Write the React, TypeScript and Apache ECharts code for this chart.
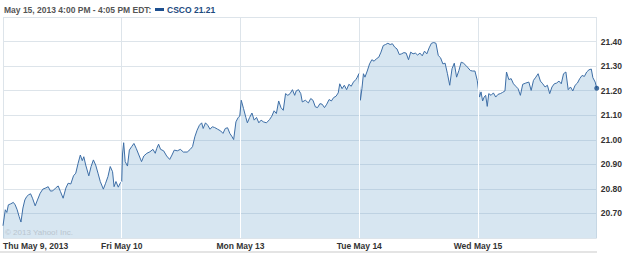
import React, { useEffect, useRef } from "react";
import * as echarts from "echarts";

const SESSION = 390;
const dayLabels = ["Thu May 9, 2013", "Fri May 10", "Mon May 13", "Tue May 14", "Wed May 15"];
const headerText = "May 15, 2013 4:00 PM - 4:05 PM EDT:";
const legendText = "CSCO 21.21";
const copyrightText = "\u00A9 2013 Yahoo! Inc.";

// [minute of session, price]
const thu: [number, number][] = [
  [0, 20.65], [7.5, 20.715], [12.6, 20.704], [17.6, 20.735], [25.2, 20.739], [34, 20.745], [40, 20.735],
  [46.5, 20.715], [52.8, 20.688], [59, 20.665], [65.4, 20.722], [71.7, 20.755], [78, 20.769], [84.3, 20.776],
  [90.6, 20.78], [96.9, 20.762], [105.7, 20.731], [113.2, 20.755], [122, 20.782], [130.8, 20.799], [140.9, 20.804],
  [148.4, 20.809], [156, 20.791], [163.5, 20.792], [172.3, 20.803], [181.2, 20.812], [188.7, 20.789], [197.5, 20.762],
  [206.3, 20.803], [213.9, 20.823], [222.7, 20.82], [231.5, 20.853], [239, 20.864], [246.6, 20.904], [254, 20.938],
  [260.4, 20.915], [265.4, 20.931], [271.7, 20.897], [281.8, 20.853], [289.3, 20.891], [296.9, 20.918], [304.4, 20.897],
  [312, 20.864], [319.5, 20.83], [329.6, 20.799], [337, 20.823], [344.7, 20.85], [352.2, 20.891], [359.8, 20.87],
  [364.8, 20.809], [371, 20.83], [378.6, 20.807], [384.9, 20.823], [390, 20.83],
];
const fri: [number, number][] = [
  [2.5, 20.942], [6.3, 20.988], [11.3, 20.911], [18.8, 20.893], [25, 20.958], [32.5, 20.972], [40, 20.985],
  [47.5, 20.965], [55, 20.942], [65, 20.911], [72.5, 20.934], [82.5, 20.945], [92.5, 20.951], [102.5, 20.961],
  [110, 20.945], [115, 20.965], [121, 20.982], [127.5, 20.961], [137.5, 20.955], [147.5, 20.934], [157.5, 20.92],
  [165, 20.938], [172.5, 20.958], [182.5, 20.955], [192.5, 20.961], [202.5, 20.95], [215, 20.95], [225, 20.961],
  [232.5, 20.972], [240, 21.012], [247.5, 21.039], [255, 21.059], [262.5, 21.069], [267.5, 21.046], [275, 21.069],
  [282.5, 21.059], [290, 21.043], [297.5, 21.053], [305, 21.05], [315, 21.043], [325, 21.036], [332.5, 21.026],
  [340, 21.046], [347.5, 21.049], [355, 21.026], [361, 21.015], [367.5, 21.001], [375, 21.073], [382.5, 21.091],
  [387.5, 21.096],
];
const mon: [number, number][] = [
  [2.5, 21.161], [10, 21.127], [17.6, 21.091], [22.6, 21.069], [30, 21.091], [37.6, 21.109], [45, 21.08],
  [52.7, 21.091], [60.2, 21.069], [67.7, 21.08], [75.2, 21.073], [85.3, 21.069], [95.3, 21.082], [102.8, 21.096],
  [110.4, 21.118], [117.9, 21.107], [125.4, 21.158], [133, 21.131], [140.5, 21.12], [148, 21.188], [155.5, 21.181],
  [163, 21.188], [170.6, 21.204], [178, 21.181], [183, 21.199], [190.6, 21.204], [198, 21.188], [203, 21.154],
  [213, 21.161], [223, 21.15], [230.7, 21.168], [238, 21.161], [245.8, 21.134], [253, 21.131], [260.8, 21.147],
  [268, 21.145], [275.9, 21.131], [283.4, 21.145], [291, 21.164], [298.5, 21.158], [306, 21.172], [313.5, 21.177],
  [321, 21.191], [326, 21.228], [333.6, 21.208], [341, 21.222], [348.6, 21.204], [356, 21.226], [363.7, 21.218],
  [371, 21.235], [378.7, 21.245], [383.7, 21.255], [388.7, 21.269],
];
const tue: [number, number][] = [
  [3.8, 21.161], [8.8, 21.208], [13.8, 21.269], [18.8, 21.255], [26.3, 21.28], [33.9, 21.309], [41.4, 21.326],
  [48.9, 21.32], [56.4, 21.33], [64, 21.336], [71.5, 21.357], [79, 21.384], [86.5, 21.388], [94, 21.393],
  [101.6, 21.388], [109, 21.391], [116.6, 21.377], [124, 21.37], [131.7, 21.347], [139, 21.35], [146.7, 21.355],
  [154, 21.353], [161.8, 21.326], [169, 21.357], [176.8, 21.35], [184.3, 21.353], [191.8, 21.345], [199.4, 21.353],
  [207, 21.342], [214.4, 21.361], [222, 21.35], [229.5, 21.374], [237, 21.393], [244.6, 21.396], [252, 21.393],
  [259.6, 21.343], [267, 21.334], [274.7, 21.309], [282, 21.312], [289.7, 21.269], [297.2, 21.222], [304.7, 21.289],
  [312.2, 21.312], [319.8, 21.255], [327.3, 21.282], [334.8, 21.316], [342.3, 21.312], [350, 21.303], [357.4, 21.293],
  [365, 21.282], [372.5, 21.28], [380, 21.28], [387.5, 21.242],
];
const wed: [number, number][] = [
  [5, 21.174], [10, 21.195], [15.2, 21.158], [20.3, 21.174], [25.3, 21.181], [30.4, 21.136], [35.4, 21.188],
  [43, 21.181], [50.6, 21.191], [58.2, 21.174], [65.8, 21.185], [73.4, 21.188], [81, 21.193], [88.6, 21.199],
  [93.7, 21.276], [101.3, 21.245], [108.9, 21.249], [116.5, 21.228], [124, 21.218], [131.7, 21.208], [139.3, 21.181],
  [146.9, 21.226], [157, 21.231], [167, 21.235], [174.7, 21.201], [182.3, 21.242], [190, 21.255], [197.5, 21.269],
  [205, 21.239], [212.7, 21.228], [220.3, 21.215], [228, 21.222], [235.5, 21.188], [243, 21.215], [250.7, 21.228],
  [258.3, 21.231], [266, 21.239], [273.5, 21.228], [281, 21.269], [288.7, 21.276], [296.3, 21.204], [303.8, 21.215],
  [311.4, 21.199], [319, 21.222], [326.6, 21.231], [334.2, 21.249], [341.8, 21.262], [349.4, 21.258], [357, 21.276],
  [364.6, 21.285], [372.2, 21.288], [377.3, 21.253], [384.9, 21.235], [390, 21.21],
];

const days = [thu, fri, mon, tue, wed];

export default function App() {
  const ref = useRef<HTMLDivElement>(null);
  useEffect(() => {
    if (!ref.current) return;
    const chart = echarts.init(ref.current, undefined, { renderer: "svg" });
    const data = days.flatMap((d, i) => d.map(([m, p]) => [i * SESSION + m, p]));
    const last = data[data.length - 1];
    const boundaryLines = days.slice(0, -1).map((d, i) => [
      { coord: [(i + 1) * SESSION, 20.6] },
      { coord: [(i + 1) * SESSION, d[d.length - 1][1]] },
    ]);
    const font = '"Liberation Sans", Arial, sans-serif';
    chart.setOption({
      animation: false,
      backgroundColor: "#ffffff",
      grid: { left: 3, right: 28, top: 17, bottom: 15 },
      xAxis: {
        type: "value",
        min: 0,
        max: SESSION * 5,
        interval: SESSION,
        axisLine: { show: false },
        axisTick: { show: false },
        splitLine: { show: true, lineStyle: { color: "#dde4ea", width: 1 } },
        axisLabel: {
          margin: 3,
          color: "#333333",
          fontFamily: font,
          fontWeight: "bold",
          fontSize: 8.5,
          alignMinLabel: "left",
          showMaxLabel: false,
          formatter: (v: number) => dayLabels[Math.round(v / SESSION)] ?? "",
        },
      },
      yAxis: {
        type: "value",
        position: "right",
        min: 20.6,
        max: 21.5,
        interval: 0.1,
        axisLine: { show: false },
        axisTick: { show: false },
        splitLine: { show: true, lineStyle: { color: "#dde4ea", width: 1 } },
        axisLabel: {
          margin: 4,
          color: "#333333",
          fontFamily: font,
          fontWeight: "bold",
          fontSize: 8.5,
          showMinLabel: false,
          showMaxLabel: false,
          formatter: (v: number) => v.toFixed(2),
        },
      },
      series: [
        {
          type: "line",
          data,
          showSymbol: false,
          symbol: "none",
          lineStyle: { color: "#3d6ea6", width: 1 },
          areaStyle: { color: "rgba(110,165,205,0.28)", opacity: 1, origin: "start" },
          markLine: {
            silent: true,
            symbol: "none",
            label: { show: false },
            lineStyle: { color: "#ffffff", width: 1, type: "solid" },
            emphasis: { disabled: true },
            data: boundaryLines,
          },
          z: 2,
        },
        {
          type: "scatter",
          data: [last],
          symbolSize: 5,
          itemStyle: { color: "#1a4e88" },
          z: 3,
        },
      ],
      graphic: [
        {
          type: "text",
          x: 4,
          y: 9.5,
          style: { text: headerText, fill: "#555555", font: `bold 8.5px ${font}`, verticalAlign: "middle" },
        },
        {
          type: "rect",
          shape: { x: 155, y: 8, width: 9, height: 3 },
          style: { fill: "#1d4f8f" },
        },
        {
          type: "text",
          x: 167,
          y: 9.5,
          style: { text: legendText, fill: "#1d4a7e", font: `bold 8.5px ${font}`, verticalAlign: "middle" },
        },
        {
          type: "text",
          x: 5,
          y: 232,
          z: 10,
          style: { text: copyrightText, fill: "#b9c5cf", font: `8px ${font}`, verticalAlign: "middle" },
        },
        {
          type: "rect",
          shape: { x: 0, y: 251, width: 597, height: 2 },
          style: { fill: "#e4e4e4" },
        },
      ],
    });
    return () => chart.dispose();
  }, []);
  return <div ref={ref} style={{ position: "fixed", left: 0, top: 0, width: 625, height: 253 }} />;
}
